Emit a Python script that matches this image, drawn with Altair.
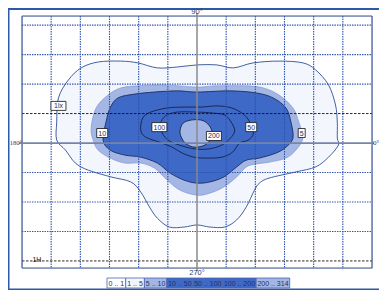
import altair as alt
import pandas as pd

# ---- contour polygons (grid units, 1 unit = 1 grid cell, origin at luminaire) ----
lx1_x = [0, 0.68, 1.25, 1.93, 2.81, 3.63, 4.07, 4.51, 4.75, 4.81, 4.81, 4.85, 4.51, 4.07, 3.39, 2.47, 2.14, 1.97, 1.69, 1.36, 0.95, 0.44, 0, -0.44, -0.95, -1.36, -1.63, -1.93, -2.27, -2.95, -3.73, -4.17, -4.51, -4.81, -4.81, -4.75, -4.41, -3.97, -3.39, -2.61, -2.03, -1.36, -0.68]
lx1_y = [2.65, 2.65, 2.55, 2.72, 2.78, 2.72, 2.48, 1.97, 1.29, 0.71, 0.17, -0.07, -0.48, -0.81, -0.98, -1.19, -1.36, -1.60, -2.17, -2.61, -2.85, -2.85, -2.78, -2.85, -2.85, -2.55, -2.17, -1.66, -1.32, -1.15, -0.92, -0.68, -0.24, 0.10, 0.71, 1.53, 2.14, 2.55, 2.75, 2.78, 2.72, 2.55, 2.58]

lx5_x = [0, 0.68, 1.69, 2.27, 2.81, 3.29, 3.49, 3.63, 3.39, 3.05, 2.47, 2.03, 1.69, 1.36, 0.92, 0.44, 0, -0.58, -1.02, -1.46, -1.93, -2.47, -2.98, -3.39, -3.56, -3.63, -3.46, -3.05, -2.61, -2.03, -1.12]
lx5_y = [1.90, 1.94, 1.94, 1.87, 1.63, 1.19, 0.71, 0.17, -0.24, -0.51, -0.65, -0.71, -0.81, -1.15, -1.49, -1.70, -1.77, -1.60, -1.26, -0.85, -0.68, -0.68, -0.51, -0.24, 0.10, 0.51, 1.19, 1.63, 1.87, 1.94, 1.97]

lx10_x = [0, 1.12, 2.03, 2.61, 3.05, 3.22, 3.29, 3.05, 2.71, 2.14, 1.69, 1.36, 0.92, 0.44, 0, -0.44, -0.92, -1.36, -1.93, -2.47, -2.98, -3.22, -3.12, -2.98, -2.71, -2.14, -1.46, -0.68]
lx10_y = [1.73, 1.77, 1.70, 1.53, 1.19, 0.71, 0.17, -0.14, -0.34, -0.51, -0.58, -0.81, -1.15, -1.32, -1.36, -1.26, -1.02, -0.68, -0.48, -0.41, -0.24, 0.10, 0.71, 1.19, 1.53, 1.66, 1.73, 1.77]

lx50_x = [-1.93, -1.86, -1.59, -1.02, -0.44, 0.17, 0.68, 1.19, 1.63, 1.86, 1.93, 1.76, 1.46, 1.22, 0.85, 0.34, -0.10, -0.51, -0.85, -1.29, -1.76]
lx50_y = [0.44, 0.85, 1.05, 1.19, 1.22, 1.22, 1.26, 1.19, 0.95, 0.61, 0.31, 0.10, 0.0, -0.31, -0.48, -0.51, -0.48, -0.34, -0.14, 0.03, 0.20]

lx100_x = [-1.25, -1.08, -0.68, 0, 0.51, 0.95, 1.19, 1.29, 1.15, 0.85, 0.41, -0.07, -0.51, -0.95, -1.19]
lx100_y = [0.65, 0.92, 1.05, 1.05, 1.02, 0.95, 0.68, 0.41, 0.17, -0.07, -0.20, -0.20, -0.10, 0.07, 0.34]

lx200_x = [-0.58, -0.47, -0.20, 0.14, 0.37, 0.51, 0.47, 0.27, -0.07, -0.37, -0.54]
lx200_y = [0.44, 0.68, 0.78, 0.78, 0.65, 0.41, 0.14, -0.07, -0.14, -0.03, 0.20]

# ---- contour value labels ----
lab_text = ["1lx", "10", "100", "200", "50", "5"]
lab_x = [-4.75, -3.25, -1.29, 0.58, 1.86, 3.59]
lab_y = [1.26, 0.34, 0.54, 0.24, 0.54, 0.34]

# ---- grid ----
grid_v_dotted = [-5, -4, -3, -2, -1, 1, 2, 3, 4, 5]
grid_v_frame = [-6, 6]
grid_h_dotted = [4, 3, 2, -1, -2, -3]
grid_h_dashed = [1, -4]

# ---- legend ----
leg_labels = ["0 .. 1", "1 .. 5", "5 .. 10", "10 .. 50", "50 .. 100", "100 .. 200", "200 .. 314"]
C_WHITE = "#ffffff"
C_VLIGHT = "#f3f6fd"
C_LIGHT = "#a3b6e4"
C_DARK = "#3e69c7"
leg_colors = [C_WHITE, C_VLIGHT, C_LIGHT, C_DARK, C_DARK, C_DARK, C_LIGHT]

W, H = 350, 252
FONT = "Liberation Sans"
NARROW = "Liberation Sans Narrow"
xs = alt.Scale(domain=[-6, 6], nice=False, zero=False)
ys = alt.Scale(domain=[-4.24, 4.31], nice=False, zero=False)


def X(f):
    return alt.X(f, type="quantitative", scale=xs, axis=None)


def Y(f):
    return alt.Y(f, type="quantitative", scale=ys, axis=None)


def poly(px, py, stroke, sw, fill=None):
    df = pd.DataFrame({"x": px, "y": py, "i": list(range(len(px)))})
    kw = dict(interpolate="cardinal-closed", stroke=stroke, strokeWidth=sw)
    if fill is not None:
        kw["fill"] = fill
    return alt.Chart(df).mark_line(**kw).encode(x=X("x"), y=Y("y"), order="i:Q")


layers = [
    poly(lx1_x, lx1_y, "#2f4f96", 0.9, C_VLIGHT),
    poly(lx5_x, lx5_y, "#8096d0", 0.7, C_LIGHT),
    poly(lx10_x, lx10_y, "#1c2c60", 0.9, C_DARK),
    poly(lx50_x, lx50_y, "#16204a", 0.9),
    poly(lx100_x, lx100_y, "#16204a", 0.9),
    poly(lx200_x, lx200_y, "#16204a", 0.9, C_LIGHT),
]

one = pd.DataFrame({"k": [0]})

# grid lines
layers.append(alt.Chart(pd.DataFrame({"v": grid_v_dotted})).mark_rule(
    stroke="#2d52b0", strokeWidth=1.1, strokeDash=[1.4, 1.1]).encode(
    x=X("v"), y=alt.value(0), y2=alt.value(H)))
layers.append(alt.Chart(pd.DataFrame({"v": grid_h_dotted})).mark_rule(
    stroke="#2d52b0", strokeWidth=1.1, strokeDash=[1.4, 1.1]).encode(
    y=Y("v"), x=alt.value(0), x2=alt.value(W)))
layers.append(alt.Chart(pd.DataFrame({"v": grid_h_dashed})).mark_rule(
    stroke="#111111", strokeWidth=0.9, strokeDash=[2.5, 1.5]).encode(
    y=Y("v"), x=alt.value(0), x2=alt.value(W)))
layers.append(alt.Chart(pd.DataFrame({"v": grid_v_frame})).mark_rule(
    stroke="#3d5a9c", strokeWidth=1.2).encode(
    x=X("v"), y=alt.value(0), y2=alt.value(H)))
layers.append(alt.Chart(one).mark_rule(stroke="#3d5a9c", strokeWidth=1.2).encode(
    y=alt.value(0), x=alt.value(0), x2=alt.value(W)))
layers.append(alt.Chart(one).mark_rule(stroke="#3d5a9c", strokeWidth=1.2).encode(
    y=alt.value(H), x=alt.value(0), x2=alt.value(W)))
# centre axes
layers.append(alt.Chart(pd.DataFrame({"v": [0]})).mark_rule(
    stroke="#8a8a8a", strokeWidth=1.5).encode(x=X("v"), y=alt.value(-3), y2=alt.value(H + 3)))
layers.append(alt.Chart(pd.DataFrame({"v": [0]})).mark_rule(
    stroke="#7684a8", strokeWidth=1.8).encode(y=Y("v"), x=alt.value(-3), x2=alt.value(W + 2)))

# outer blue frame
FR = "#2b5aa8"
layers.append(alt.Chart(one).mark_rule(stroke=FR, strokeWidth=1.6).encode(
    x=alt.value(-13.3), y=alt.value(-7), y2=alt.value(273.5)))
layers.append(alt.Chart(one).mark_rule(stroke=FR, strokeWidth=2).encode(
    y=alt.value(-7), x=alt.value(-14), x2=alt.value(362)))
layers.append(alt.Chart(one).mark_rule(stroke=FR, strokeWidth=2).encode(
    y=alt.value(273.5), x=alt.value(-14), x2=alt.value(362)))

# contour labels
BOX_H = 9.0
paths = []
for t in lab_text:
    half = (len(t) * 4.0 + 3.0) / 2.0
    u = half / (BOX_H / 2.0)
    paths.append(f"M {-u:.3f} -1 L {u:.3f} -1 L {u:.3f} 1 L {-u:.3f} 1 Z")
lab_df = pd.DataFrame({"x": lab_x, "y": lab_y, "t": lab_text, "p": paths})
layers.append(alt.Chart(lab_df).mark_point(
    filled=True, fill="white", stroke="#111111", strokeWidth=0.8, opacity=1, size=BOX_H * BOX_H).encode(
    x=X("x"), y=Y("y"), shape=alt.Shape("p:N", scale=None)))
layers.append(alt.Chart(lab_df).mark_text(
    font=FONT, fontSize=7, color="#1a2a5a", baseline="middle", align="center", dy=0.5).encode(
    x=X("x"), y=Y("y"), text="t:N"))

# compass labels
layers.append(alt.Chart(pd.DataFrame({"x": [0], "t": ["90°"]})).mark_text(
    font=FONT, fontSize=7.5, color="#33406a", baseline="middle").encode(
    x=X("x"), y=alt.value(-4), text="t:N"))
layers.append(alt.Chart(pd.DataFrame({"x": [0], "t": ["270°"]})).mark_text(
    font=FONT, fontSize=7.5, color="#33406a", baseline="middle").encode(
    x=X("x"), y=alt.value(257), text="t:N"))
layers.append(alt.Chart(pd.DataFrame({"x": [-6], "y": [0], "t": ["180°"]})).mark_text(
    font=NARROW, fontSize=6.5, color="#33406a", baseline="middle", align="right", dx=0).encode(
    x=X("x"), y=Y("y"), text="t:N"))
layers.append(alt.Chart(pd.DataFrame({"x": [6], "y": [0], "t": ["0°"]})).mark_text(
    font=NARROW, fontSize=7, color="#33406a", baseline="middle", align="left", dx=1).encode(
    x=X("x"), y=Y("y"), text="t:N"))
layers.append(alt.Chart(pd.DataFrame({"x": [-5.49], "y": [-3.97], "t": ["1H"]})).mark_text(
    font=FONT, fontSize=7, color="#111111", baseline="middle", align="center").encode(
    x=X("x"), y=Y("y"), text="t:N"))

# legend strip
a, b, m = [], [], []
pos = 85.0
for s in leg_labels:
    w = 3.7 * len(s) - 3.5
    a.append(pos)
    b.append(pos + w)
    m.append(pos + w / 2)
    pos += w
leg_df = pd.DataFrame({"a": a, "b": b, "m": m, "t": leg_labels, "c": leg_colors})
layers.append(alt.Chart(leg_df).mark_rect(stroke="#4a66b0", strokeWidth=0.8).encode(
    x=alt.X("a:Q", scale=None), x2="b:Q", y=alt.value(262), y2=alt.value(272),
    fill=alt.Color("c:N", scale=None)))
layers.append(alt.Chart(leg_df).mark_text(font=FONT, fontSize=7, color="#26325e", baseline="middle").encode(
    x=alt.X("m:Q", scale=None), y=alt.value(267.5), text="t:N"))

chart = alt.layer(*layers).properties(
    width=W, height=H, autosize="none",
    padding={"left": 14, "top": 8, "right": 7, "bottom": 22},
).configure_view(stroke=None).configure(background="white")

chart.save("out.html", embed_options={"renderer": "svg", "actions": False})
